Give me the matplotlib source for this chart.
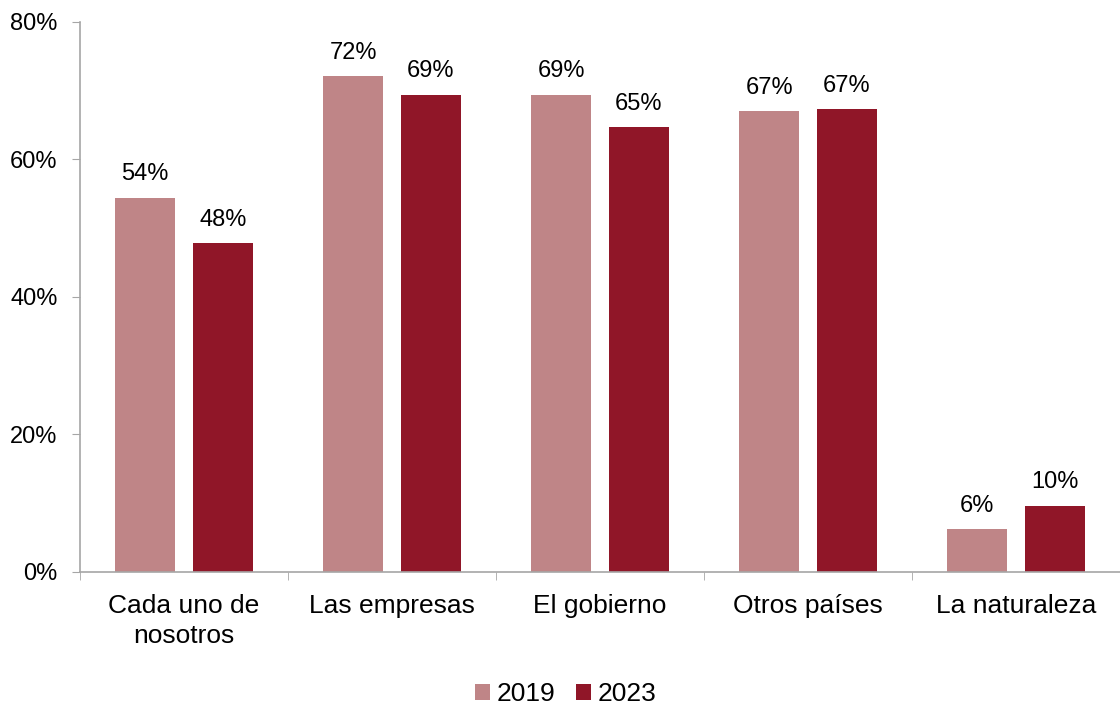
import matplotlib.pyplot as plt
import numpy as np

plt.rcParams['font.family'] = ['Liberation Sans', 'DejaVu Sans']

categories = ['Cada uno de\nnosotros', 'Las empresas', 'El gobierno', 'Otros países', 'La naturaleza']
years = ['2019', '2023']
vals_2019 = [54.4, 72.1, 69.4, 67.0, 6.2]
vals_2023 = [47.8, 69.4, 64.7, 67.3, 9.6]
yticks = [0, 20, 40, 60, 80]

colors = ['#BF8587', '#901628']
axis_grey = '#A6A6A6'

fig = plt.figure(figsize=(11.2, 7.07), dpi=100)
ax = fig.add_axes([0.0714, 0.191, 0.9286, 0.778])

x = np.arange(len(categories))
width = 0.287
offset = 0.187
for vals, yr, col, dx in zip([vals_2019, vals_2023], years, colors, [-offset, offset]):
    bars = ax.bar(x + dx, vals, width, color=col, label=yr)
    for b, v in zip(bars, vals):
        ax.annotate(f'{v:.0f}%', (b.get_x() + b.get_width() / 2, v),
                    xytext=(0, 9), textcoords='offset points',
                    ha='center', va='bottom', fontsize=17)

ax.set_xlim(-0.5, len(categories) - 0.5)
ax.set_ylim(0, 80)
ax.set_yticks(yticks)
ax.set_yticklabels([f'{t}%' for t in yticks], fontsize=17)
ax.set_xticks(x)
ax.set_xticklabels(categories, fontsize=19, linespacing=1.3)
ax.set_xticks(np.arange(len(categories) + 1) - 0.5, minor=True)
ax.tick_params(axis='x', which='major', length=0, pad=16)
ax.tick_params(axis='x', which='minor', length=6, color=axis_grey)
ax.tick_params(axis='y', length=6, color=axis_grey, pad=10)

for s in ['top', 'right']:
    ax.spines[s].set_visible(False)
for s in ['left', 'bottom']:
    ax.spines[s].set_color(axis_grey)
    ax.spines[s].set_linewidth(1.2)

fig.legend(loc='lower center', bbox_to_anchor=(0.505, 0.001), borderaxespad=0.0,
           borderpad=0.0, ncol=2, frameon=False, fontsize=19, handlelength=0.55,
           handleheight=0.55, handletextpad=0.25, columnspacing=0.8)

fig.savefig('out.png', dpi=100)
